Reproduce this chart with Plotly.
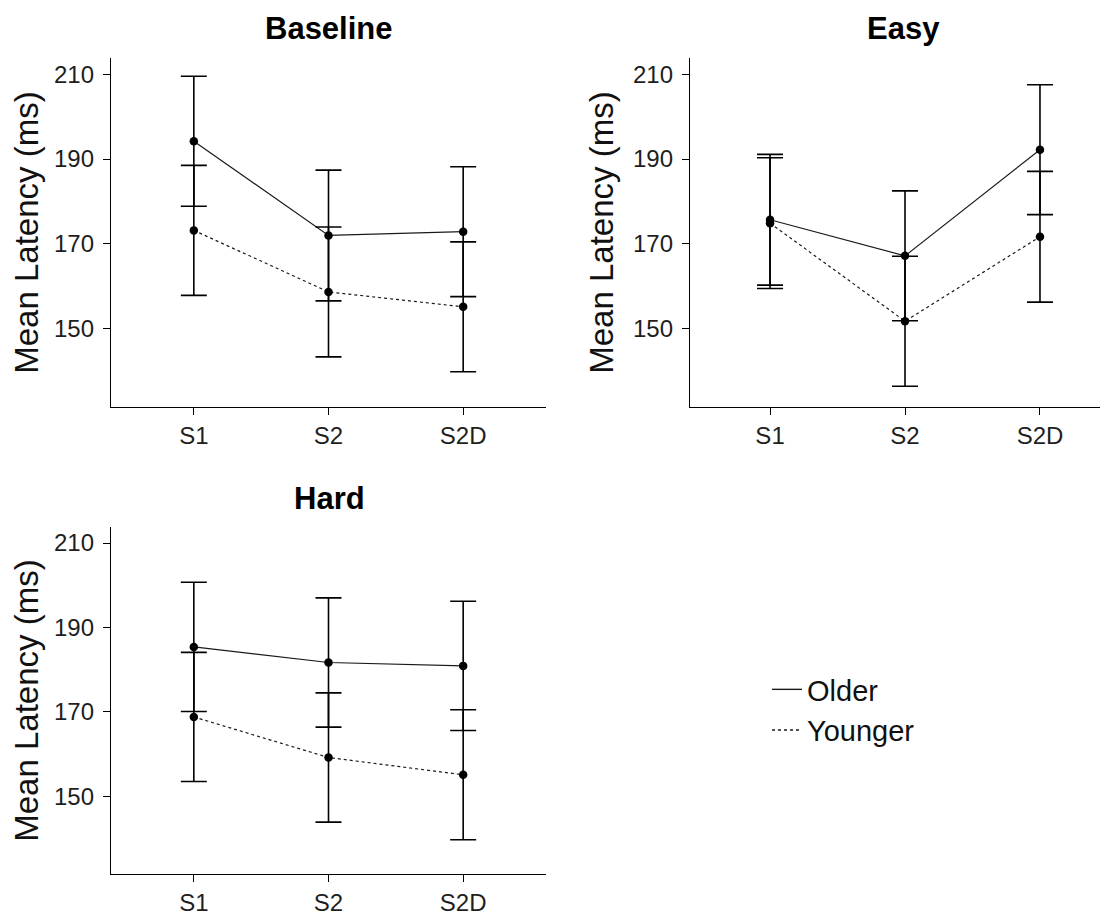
import plotly.graph_objects as go

categories = ["S1", "S2", "S2D"]

baseline_older = [194.2, 172.0, 172.9]
baseline_older_err = [15.3, 15.4, 15.3]
baseline_younger = [173.2, 158.7, 155.2]
baseline_younger_err = [15.3, 15.3, 15.3]

easy_older = [175.7, 167.2, 192.2]
easy_older_err = [15.4, 15.3, 15.3]
easy_younger = [174.9, 151.8, 171.7]
easy_younger_err = [15.4, 15.3, 15.4]

hard_older = [185.4, 181.7, 180.9]
hard_older_err = [15.3, 15.3, 15.3]
hard_younger = [168.8, 159.2, 155.1]
hard_younger_err = [15.3, 15.3, 15.4]

panel_titles = ["Baseline", "Easy", "Hard"]
y_ticks = [150, 170, 190, 210]
y_title = "Mean Latency (ms)"
legend_names = ["Older", "Younger"]

FONT = "Liberation Sans, Arial, sans-serif"
INK = "#000000"
# page body has an 8px margin; size the figure so it fits the window
OFF = 8
W, H = 1108 - OFF, 918 - OFF

panels = [
    (baseline_older, baseline_older_err, baseline_younger, baseline_younger_err, "x", "y"),
    (easy_older, easy_older_err, easy_younger, easy_younger_err, "x2", "y2"),
    (hard_older, hard_older_err, hard_younger, hard_younger_err, "x3", "y3"),
]

fig = go.Figure()
for o, oe, yv, ye, xa, ya in panels:
    for vals, errs, dash in ((o, oe, "solid"), (yv, ye, "dot")):
        fig.add_trace(go.Scatter(
            x=categories, y=vals, xaxis=xa, yaxis=ya,
            mode="lines+markers",
            line=dict(color="#1a1a1a", width=1.2, dash=dash),
            marker=dict(color=INK, size=8.5),
            error_y=dict(type="data", array=errs, visible=True,
                         color=INK, thickness=1.6, width=13),
            showlegend=False, hoverinfo="skip",
        ))

# legend entries
for name, dash in zip(legend_names, ["solid", "dot"]):
    fig.add_trace(go.Scatter(
        x=[None], y=[None], xaxis="x3", yaxis="y3", mode="lines",
        name=name, line=dict(color="#1a1a1a", width=1.4, dash=dash),
        showlegend=True,
    ))


def px_x(p):
    return (p - OFF) / W


def px_y(p):
    return 1 - (p - OFF) / H


axis_common = dict(
    showline=True, linecolor=INK, linewidth=1.3,
    ticks="outside", ticklen=7, tickwidth=1.3, tickcolor=INK,
    showgrid=False, zeroline=False, automargin=False,
    tickfont=dict(family=FONT, size=24, color="#1e1e1e"),
)

yr = [131.6, 213.8]
top_dom = [px_y(407), px_y(58)]
bot_dom = [px_y(874), px_y(527)]

xaxis_common = dict(axis_common, ticklabelstandoff=0)
yaxis_common = dict(axis_common, range=yr, tickvals=y_ticks, ticklabelstandoff=4,
                    title=dict(text=y_title, font=dict(family=FONT, size=33, color="#111111"), standoff=9))

fig.update_layout(
    width=W, height=H,
    margin=dict(l=0, r=0, t=0, b=0),
    paper_bgcolor="white", plot_bgcolor="white",
    xaxis=dict(xaxis_common, domain=[px_x(111), px_x(546)], range=[-0.615, 2.615], anchor="y"),
    yaxis=dict(yaxis_common, domain=top_dom, anchor="x"),
    xaxis2=dict(xaxis_common, domain=[px_x(690), 1.0], range=[-0.593, 2.504], anchor="y2"),
    yaxis2=dict(yaxis_common, domain=top_dom, anchor="x2"),
    xaxis3=dict(xaxis_common, domain=[px_x(111), px_x(546)], range=[-0.615, 2.615], anchor="y3"),
    yaxis3=dict(yaxis_common, domain=bot_dom, anchor="x3"),
    legend=dict(x=px_x(767), y=px_y(664), xanchor="left", yanchor="top",
                font=dict(family=FONT, size=29, color="#111111"),
                bgcolor="rgba(0,0,0,0)", itemwidth=30, tracegroupgap=0),
    showlegend=True,
)

title_pos = [(329, 28), (903, 28), (329, 498)]
for t, (cx, cy) in zip(panel_titles, title_pos):
    fig.add_annotation(text="<b>%s</b>" % t, x=px_x(cx), y=px_y(cy), xref="paper", yref="paper",
                       xanchor="center", yanchor="middle", showarrow=False,
                       font=dict(family=FONT, size=31, color=INK))

fig.write_html("out.html")
